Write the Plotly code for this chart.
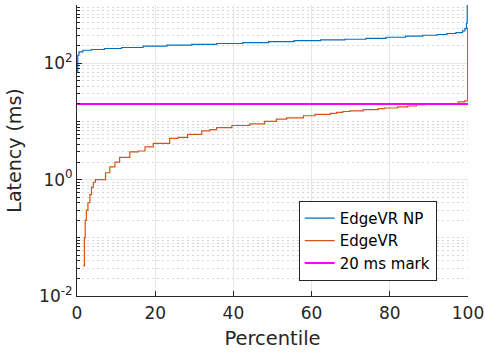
import plotly.graph_objects as go

# EdgeVR NP (blue) CDF-like percentile curve
np_pct = [0, 0.2, 0.5, 1.5, 3.7, 7, 11.4, 16.9, 23, 29.3, 35.7, 42.4, 49, 55.5, 62.3,
          68.5, 73.9, 79, 84, 88.4, 92.1, 94.6, 96.9, 98.6, 99.2, 99.6, 99.8, 100]
np_lat = [70, 137, 156, 167, 172, 179, 186, 196, 204, 210, 218, 226, 235, 245, 252,
          258, 268, 279, 291, 302, 311, 324, 336, 358, 394, 486, 1000, 1200]

# EdgeVR (orange)
ev_pct = [1.6, 1.9, 2.1, 2.4, 2.8, 3.3, 3.7, 4.2, 4.7, 6.8, 7.3, 8.4, 9.7, 10.9, 13.5,
          15.7, 17.4, 19.5, 20.7, 23.7, 25.8, 28.3, 31.9, 34.0, 35.7, 39.6, 44.2, 48,
          51, 53.6, 57.9, 60.9, 64.8, 66.4, 68, 69.8, 73.2, 77, 78.7, 82, 84.6, 86.8,
          89, 92, 95, 97.5, 99.2, 99.9, 100]
ev_lat = [0.033, 0.1, 0.2, 0.3, 0.4, 0.55, 0.74, 0.9, 1.0, 1.0, 1.31, 1.66, 2.0, 2.4, 3.0,
          3.1, 3.66, 4.2, 4.2, 5.1, 5.3, 6.0, 6.9, 7.2, 7.8, 8.5, 9.1, 10.0,
          10.9, 11.5, 12.5, 13.2, 13.7, 14.3, 14.8, 15.2, 15.9, 16.6, 17.0, 17.7, 18.4, 19.4,
          19.7, 19.9, 20.3, 21.7, 22.5, 400, 400]

mark_x = [0, 100]
mark_y = [20, 20]

x_ticks = [0, 20, 40, 60, 80, 100]
y_ticks = [0.01, 1, 100]
y_ticktext = ["10<sup>-2</sup>", "10<sup>0</sup>", "10<sup>2</sup>"]
y_minor = [m * 10 ** e for e in range(-2, 3) for m in range(2, 10)] + [0.1, 10, 1000]

axis_col = "#262626"
fig = go.Figure()
fig.add_trace(go.Scatter(x=np_pct, y=np_lat, mode="lines", name="EdgeVR NP",
                         line=dict(color="#0072BD", width=1.2, shape="hv")))
fig.add_trace(go.Scatter(x=ev_pct, y=ev_lat, mode="lines", name="EdgeVR",
                         line=dict(color="#D95319", width=1.2, shape="hv")))
fig.add_trace(go.Scatter(x=mark_x, y=mark_y, mode="lines", name="20 ms mark",
                         line=dict(color="#FF00FF", width=2)))

fig.update_layout(
    width=485, height=352,
    margin=dict(l=77, r=17, t=5, b=56),
    paper_bgcolor="white", plot_bgcolor="white",
    font=dict(family="DejaVu Sans", color=axis_col, size=16),
    legend=dict(x=0.92, xanchor="right", y=0.052, yanchor="bottom",
                bgcolor="white", bordercolor=axis_col, borderwidth=1,
                font=dict(size=15, color="black"), tracegroupgap=0,
                itemwidth=30),
    showlegend=True,
)
fig.update_xaxes(
    range=[0, 100], tickvals=x_ticks, ticks="inside", ticklen=5, tickcolor=axis_col,
    showline=True, linecolor=axis_col, linewidth=1, mirror=False, automargin=False,
    showgrid=True, gridcolor="#e6e6e6", gridwidth=1, zeroline=False,
    title=dict(text="Percentile", font=dict(size=19.5), standoff=8),
    tickfont=dict(size=17), ticklabelstandoff=2,
)
fig.update_yaxes(
    type="log", range=[-2, 3], tickvals=y_ticks, ticktext=y_ticktext,
    ticks="inside", ticklen=5, tickcolor=axis_col, automargin=False,
    showline=True, linecolor=axis_col, linewidth=1, mirror=False,
    showgrid=True, gridcolor="#e6e6e6", gridwidth=1, zeroline=False,
    minor=dict(tickvals=y_minor, showgrid=True, gridcolor="#d6d6d6", griddash="2px,3px",
               gridwidth=1, ticks="inside", ticklen=3, tickcolor=axis_col),
    title=dict(text="Latency (ms)", font=dict(size=19), standoff=12),
    tickfont=dict(size=17),
)
fig.write_html("out.html", config={"displayModeBar": False},
               post_script="document.body.style.margin='0';")
